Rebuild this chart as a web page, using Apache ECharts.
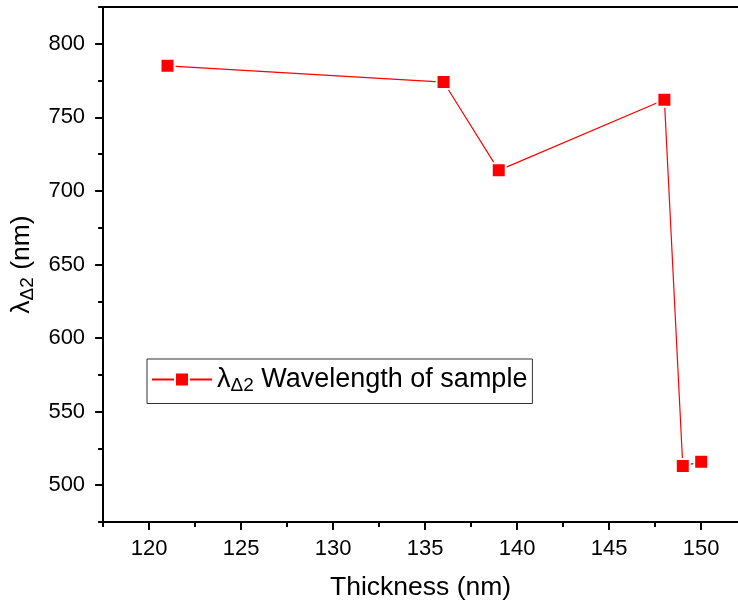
<!DOCTYPE html>
<html>
<head>
<meta charset="utf-8">
<script src="https://cdn.jsdelivr.net/npm/echarts@6/dist/echarts.min.js"></script>
<style>
  html, body { margin: 0; padding: 0; background: #fff; }
  #chart { width: 738px; height: 606px; }
</style>
</head>
<body>
<div id="chart"></div>
<script>
// Film thickness (nm) versus the λΔ2 wavelength (nm)
const thickness = [121, 136, 139, 148, 149, 150];
const wavelength = [785, 774, 714, 762, 513, 516];

// Tick positions
const xMajor = [120, 125, 130, 135, 140, 145, 150];
const xMinor = [117.5, 122.5, 127.5, 132.5, 137.5, 142.5, 147.5];
const yMajor = [500, 550, 600, 650, 700, 750, 800];
const yMinor = [475, 525, 575, 625, 675, 725, 775, 825];

const seriesName = 'λΔ2 Wavelength of sample';
const FONT = '"Liberation Sans", Arial, sans-serif';
const black = '#000';

// Rich styles for the λ with its Δ2 subscript
const subRich = {
  l: { fontFamily: FONT, fontSize: 26.5, color: black, lineHeight: 32 },
  s: { fontFamily: FONT, fontSize: 19, color: black, lineHeight: 10, verticalAlign: 'bottom' }
};
const legendRich = {
  l: { fontFamily: FONT, fontSize: 27, color: black, lineHeight: 32 },
  s: { fontFamily: FONT, fontSize: 19, color: black, lineHeight: 10, verticalAlign: 'bottom' }
};

const chart = echarts.init(document.getElementById('chart'), null, { renderer: 'canvas' });

const xRange = { min: 117.5, max: 152 };
const yRange = { min: 475, max: 825 };

chart.setOption({
  backgroundColor: '#fff',
  animation: false,
  grid: { left: 102, top: 7, right: 0, bottom: 84, containLabel: false },
  legend: {
    left: 147,
    top: 359,
    orient: 'horizontal',
    borderColor: '#333',
    borderWidth: 1,
    padding: [7, 5, 8, 4],
    itemWidth: 60,
    itemHeight: 17.5,
    itemGap: 6,
    data: [seriesName],
    formatter: () => '{l|λ}{s|Δ2}{l| Wavelength of sample}',
    textStyle: { rich: legendRich, padding: [0, 0, 0, 0] }
  },
  xAxis: [
    {
      type: 'value', position: 'bottom', ...xRange,
      axisLine: { show: true, onZero: false, lineStyle: { color: black, width: 2 } },
      axisTick: { show: true, inside: false, length: 8, customValues: xMajor, lineStyle: { color: black, width: 2 } },
      axisLabel: { show: true, customValues: xMajor, fontFamily: FONT, fontSize: 22, color: black, margin: 16 },
      splitLine: { show: false },
      name: 'Thickness (nm)', nameLocation: 'middle', nameGap: 52,
      nameTextStyle: { fontFamily: FONT, fontSize: 26.5, color: black }
    },
    {
      type: 'value', position: 'bottom', ...xRange,
      axisLine: { show: false, onZero: false },
      axisTick: { show: true, inside: false, length: 5, customValues: xMinor, lineStyle: { color: black, width: 2 } },
      axisLabel: { show: false },
      splitLine: { show: false }
    },
    {
      type: 'value', position: 'top', ...xRange,
      axisLine: { show: true, onZero: false, lineStyle: { color: black, width: 2 } },
      axisTick: { show: false },
      axisLabel: { show: false },
      splitLine: { show: false }
    }
  ],
  yAxis: [
    {
      type: 'value', position: 'left', ...yRange,
      axisLine: { show: true, onZero: false, lineStyle: { color: black, width: 2 } },
      axisTick: { show: true, inside: false, length: 8, customValues: yMajor, lineStyle: { color: black, width: 2 } },
      axisLabel: { show: true, customValues: yMajor, fontFamily: FONT, fontSize: 22, color: black, margin: 18 },
      splitLine: { show: false },
      name: '{l|λ}{s|Δ2}{l| (nm)}', nameLocation: 'middle', nameGap: 60,
      nameTextStyle: { rich: subRich }
    },
    {
      type: 'value', position: 'left', ...yRange,
      axisLine: { show: false, onZero: false },
      axisTick: { show: true, inside: false, length: 5, customValues: yMinor, lineStyle: { color: black, width: 2 } },
      axisLabel: { show: false },
      splitLine: { show: false }
    }
  ],
  series: [
    {
      name: seriesName,
      type: 'line',
      xAxisIndex: 0,
      yAxisIndex: 0,
      data: thickness.map((t, i) => [t, wavelength[i]]),
      symbol: 'rect',
      symbolSize: 14,
      lineStyle: { color: '#ff0000', width: 1.2 },
      itemStyle: { color: '#ff0000', borderColor: '#fff', borderWidth: 2 },
      emphasis: { disabled: true }
    }
  ]
});
</script>
</body>
</html>
